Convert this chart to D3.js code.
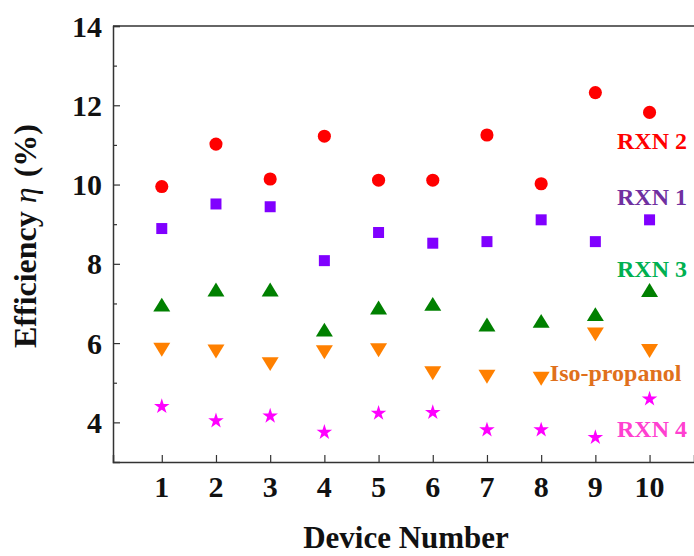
<!doctype html>
<html>
 <head>
  <meta charset='utf-8'>
  <title>Efficiency by device</title>
  <style>
    html,body{margin:0;padding:0;background:#fff;}
    svg{display:block;}
    text{font-family:'Liberation Serif','Times New Roman',serif;font-weight:bold;}
  </style>
 </head>
 <body>
  <svg id='chart' width='694' height='556'></svg>
  <script src='https://cdn.jsdelivr.net/npm/d3@7'></script>
  <script>

   // device numbers
   var devices = [1,2,3,4,5,6,7,8,9,10]

   // efficiency (%)
   var rxn2 = [9.95,11.02,10.14,11.22,10.11,10.11,11.25,10.02,12.32,11.82]
   var rxn1 = [8.89,9.51,9.44,8.08,8.79,8.52,8.56,9.11,8.56,9.11]
   var rxn3 = [6.97,7.35,7.35,6.34,6.90,6.99,6.47,6.56,6.73,7.34]
   var isoPropanol = [5.83,5.79,5.47,5.77,5.82,5.24,5.15,5.10,6.22,5.80]
   var rxn4 = [4.40,4.04,4.16,3.75,4.23,4.25,3.81,3.81,3.62,4.59]

   var yTicks = [4,6,8,10,12,14]
   var yMinor = [5,7,9,11,13]

   // triangles centred on their box, like the original
   var triUp = {draw:function(c,s){
     var w = Math.sqrt(s*4/Math.sqrt(3)), h = w*0.82
     c.moveTo(0,-h/2); c.lineTo(w/2,h/2); c.lineTo(-w/2,h/2); c.closePath()
   }}
   var triDown = {draw:function(c,s){
     var w = Math.sqrt(s*4/Math.sqrt(3)), h = w*0.82
     c.moveTo(0,h/2); c.lineTo(w/2,-h/2); c.lineTo(-w/2,-h/2); c.closePath()
   }}

   var series = [
     {name:'RXN 2', values:rxn2, color:'#ff0000', text:'#ff0000', shape:d3.symbolCircle, size:135, lx:9.40, ly:10.90},
     {name:'RXN 1', values:rxn1, color:'#8000ff', text:'#7030a0', shape:d3.symbolSquare, size:121, lx:9.40, ly:9.48},
     {name:'RXN 3', values:rxn3, color:'#008000', text:'#00b050', shape:triUp, size:125, lx:9.40, ly:7.68},
     {name:'Iso-propanol', values:isoPropanol, color:'#ff8000', text:'#e0701c', shape:triDown, size:125, lx:8.16, ly:5.05},
     {name:'RXN 4', values:rxn4, color:'#ff00ff', text:'#ff40d0', shape:d3.symbolStar, size:75, lx:9.40, ly:3.64}
   ]

   var svg = d3.select('#chart')
   var L = 113, R = 694, T = 26, B = 462

   var x = d3.scaleLinear().domain([0.1,10.82]).range([L,R])
   var y = d3.scaleLinear().domain([3,14]).range([B,T])

   /*
    * frame
    */
   var axisColor = '#333'
   svg.append('line').attr('x1',L).attr('x2',R).attr('y1',T).attr('y2',T)
      .attr('stroke',axisColor).attr('stroke-width',1.5)

   var yAxis = svg.append('g').attr('transform','translate('+L+',0)')
      .call(d3.axisRight(y).tickValues(yTicks).tickSize(7).tickFormat(''))
   yAxis.select('.domain').attr('stroke',axisColor).attr('stroke-width',1.5)
   yAxis.selectAll('.tick line').attr('stroke',axisColor).attr('stroke-width',1.2)

   var yAxisMinor = svg.append('g').attr('transform','translate('+L+',0)')
      .call(d3.axisRight(y).tickValues(yMinor).tickSize(4).tickFormat(''))
   yAxisMinor.select('.domain').remove()
   yAxisMinor.selectAll('.tick line').attr('stroke',axisColor).attr('stroke-width',1.2)

   svg.append('g').selectAll('text').data(yTicks).join('text')
      .attr('x',L-11).attr('y',function(d){ return y(d) })
      .attr('dy','0.35em').attr('text-anchor','end')
      .attr('font-size',30).attr('fill','#111')
      .text(function(d){ return d })

   var xAxis = svg.append('g').attr('transform','translate(0,'+B+')')
      .call(d3.axisTop(x).tickValues(devices).tickSize(7).tickFormat(''))
   xAxis.select('.domain').attr('stroke',axisColor).attr('stroke-width',1.5)
   xAxis.selectAll('.tick line').attr('stroke',axisColor).attr('stroke-width',1.2)

   svg.append('g').selectAll('text').data(devices).join('text')
      .attr('x',function(d){ return x(d) }).attr('y',497)
      .attr('text-anchor','middle')
      .attr('font-size',30).attr('fill','#111')
      .text(function(d){ return d })

   /*
    * titles
    */
   svg.append('text')
      .attr('x',406).attr('y',548)
      .attr('text-anchor','middle').attr('font-size',31).attr('fill','#111')
      .text('Device Number')

   var yt = svg.append('text')
      .attr('transform','translate(36,236) rotate(-90)')
      .attr('text-anchor','middle').attr('font-size',32).attr('fill','#111')
   yt.append('tspan').text('Efficiency ')
   yt.append('tspan').attr('font-style','italic').attr('font-weight','normal').text('η')
   yt.append('tspan').attr('dx',10).text('(%)')

   /*
    * points
    */
   series.forEach(function(s){
     var sym = d3.symbol().type(s.shape).size(s.size)
     svg.append('g').selectAll('path').data(s.values).join('path')
        .attr('d',sym)
        .attr('transform',function(v,i){ return 'translate('+x(devices[i])+','+y(v)+')' })
        .attr('fill',s.color)

     svg.append('text')
        .attr('x',x(s.lx)).attr('y',y(s.ly))
        .attr('font-size',24).attr('fill',s.text)
        .text(s.name)
   })
  </script>
 </body>
</html>
